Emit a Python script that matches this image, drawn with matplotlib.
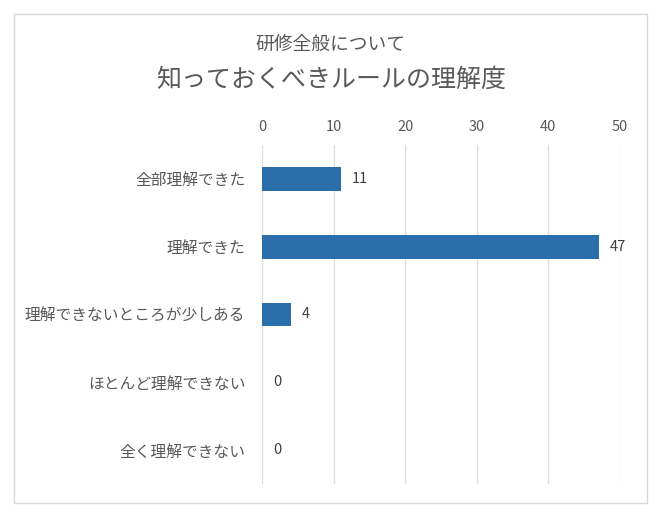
import numpy as np
import matplotlib
matplotlib.use("Agg")
import matplotlib.pyplot as plt
from matplotlib.patches import Rectangle

plt.rcParams['font.family'] = ['Noto Sans CJK JP', 'DejaVu Sans']

# データ
categories = ["全部理解できた", "理解できた", "理解できないところが少しある",
              "ほとんど理解できない", "全く理解できない"]
values = [11, 47, 4, 0, 0]
xticks = [0, 10, 20, 30, 40, 50]
subtitle = "研修全般について"
title = "知っておくべきルールの理解度"

W, H = 661, 515
fig = plt.figure(figsize=(W / 100, H / 100), dpi=100)

# 外枠
fig.patches.append(Rectangle((14 / W, 1 - 503 / H), 633 / W, 489 / H,
                             transform=fig.transFigure, fill=False,
                             edgecolor="#D9D9D9", linewidth=1))

ax = fig.add_axes([262 / W, 1 - 484 / H, 358 / W, 339 / H])
y = np.arange(len(categories))
ax.barh(y, values, height=0.35, color="#2A6EAA", zorder=3)
ax.set_ylim(len(categories) - 0.5, -0.5)
ax.set_xlim(0, 50)
ax.set_xticks(xticks)
ax.xaxis.tick_top()
ax.tick_params(axis="x", length=0, pad=8, labelsize=10.5, labelcolor="#595959")
ax.tick_params(axis="y", length=0, pad=12, labelsize=11.3, labelcolor="#595959")
ax.set_yticks(y)
ax.set_yticklabels(categories)
ax.grid(axis="x", color="#DEDEDE", linewidth=0.9, zorder=0)
for s in ax.spines.values():
    s.set_visible(False)

for yi, v in zip(y, values):
    ax.annotate(str(v), (v, yi), xytext=(8, 0), textcoords="offset points",
                va="center", ha="left", fontsize=10.5, color="#404040")

fig.text(330 / W, 1 - 44 / H, subtitle, ha="center", va="center",
         fontsize=13.5, color="#595959")
fig.text(331 / W, 1 - 80 / H, title, ha="center", va="center",
         fontsize=18, color="#595959")

fig.savefig("out.png", dpi=100)
